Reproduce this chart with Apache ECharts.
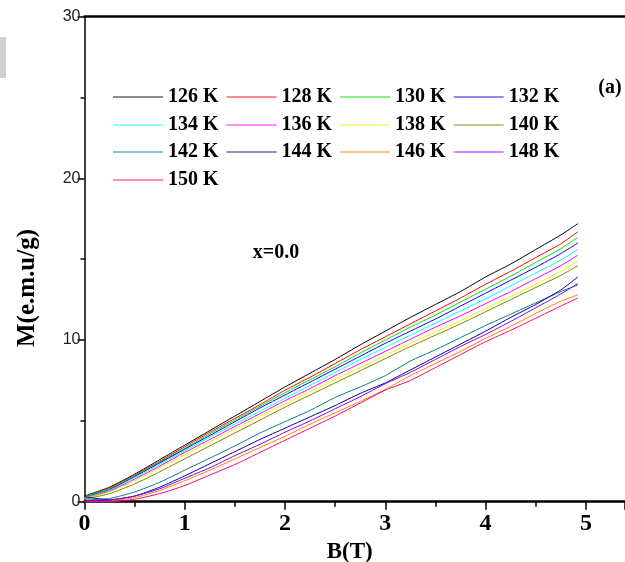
<!DOCTYPE html>
<html>
<head>
<meta charset="utf-8">
<script src="https://cdn.jsdelivr.net/npm/echarts@6/dist/echarts.min.js"></script>
<style>
  html, body { margin: 0; padding: 0; background: #fff; }
  #chart { width: 625px; height: 562px; }
</style>
</head>
<body>
<div id="chart"></div>
<script>
// field values B(T), shared by all curves
var fieldB = [0, 0.25, 0.5, 0.75, 1, 1.25, 1.5, 1.75, 2, 2.25, 2.5, 2.75, 3, 3.25, 3.5, 3.75, 4, 4.25, 4.5, 4.75, 4.92];

var temps = ['126 K', '128 K', '130 K', '132 K', '134 K', '136 K', '138 K', '140 K', '142 K', '144 K', '146 K', '148 K', '150 K'];

// M(e.m.u/g)
var m126 = [0.35, 0.9, 1.7, 2.6, 3.5, 4.4, 5.3, 6.2, 7.1, 7.95, 8.8, 9.7, 10.55, 11.4, 12.2, 13.0, 13.9, 14.7, 15.6, 16.5, 17.2];
var m128 = [0.3, 0.85, 1.65, 2.5, 3.4, 4.3, 5.15, 6.0, 6.9, 7.7, 8.55, 9.4, 10.2, 11.0, 11.8, 12.6, 13.45, 14.25, 15.1, 15.95, 16.7];
var m130 = [0.3, 0.8, 1.6, 2.45, 3.3, 4.2, 5.05, 5.9, 6.75, 7.55, 8.35, 9.2, 10.0, 10.8, 11.55, 12.35, 13.15, 13.95, 14.8, 15.65, 16.35];
var m132 = [0.25, 0.75, 1.55, 2.4, 3.25, 4.1, 4.95, 5.8, 6.6, 7.4, 8.2, 9.0, 9.8, 10.55, 11.3, 12.1, 12.9, 13.7, 14.5, 15.35, 16.0];
var m134 = [0.25, 0.7, 1.5, 2.3, 3.15, 4.0, 4.8, 5.6, 6.4, 7.2, 8.0, 8.8, 9.55, 10.3, 11.05, 11.8, 12.55, 13.35, 14.15, 14.95, 15.6];
var m136 = [0.2, 0.65, 1.4, 2.2, 3.05, 3.85, 4.65, 5.45, 6.25, 7.0, 7.8, 8.55, 9.3, 10.05, 10.8, 11.5, 12.25, 13.0, 13.8, 14.6, 15.25];
var m138 = [0.2, 0.6, 1.3, 2.1, 2.9, 3.7, 4.5, 5.3, 6.05, 6.8, 7.55, 8.3, 9.05, 9.8, 10.5, 11.2, 11.95, 12.7, 13.45, 14.25, 14.9];
var m140 = [0.15, 0.5, 1.1, 1.85, 2.65, 3.45, 4.25, 5.05, 5.85, 6.6, 7.35, 8.1, 8.85, 9.6, 10.3, 11.0, 11.75, 12.5, 13.25, 14.0, 14.6];
var m142 = [0.1, 0.2, 0.6, 1.2, 1.95, 2.7, 3.45, 4.25, 4.95, 5.65, 6.45, 7.1, 7.8, 8.7, 9.4, 10.15, 10.9, 11.6, 12.3, 13.0, 13.4];
var m144 = [0.3, 0.12, 0.35, 0.9, 1.6, 2.35, 3.1, 3.85, 4.55, 5.25, 5.95, 6.7, 7.35, 8.15, 8.95, 9.75, 10.55, 11.4, 12.2, 13.1, 13.9];
var m146 = [0.0, 0.05, 0.25, 0.7, 1.3, 1.95, 2.65, 3.35, 4.05, 4.8, 5.5, 6.2, 6.95, 7.8, 8.55, 9.3, 10.1, 10.85, 11.65, 12.4, 12.8];
var m148 = [0.05, 0.1, 0.35, 0.8, 1.45, 2.1, 2.85, 3.55, 4.3, 5.0, 5.75, 6.5, 7.3, 8.0, 8.8, 9.6, 10.35, 11.15, 12.0, 12.85, 13.5];
var m150 = [0.0, 0.0, 0.15, 0.5, 1.0, 1.65, 2.3, 3.05, 3.8, 4.55, 5.3, 6.1, 6.9, 7.5, 8.3, 9.1, 9.9, 10.6, 11.35, 12.1, 12.6];

var curves = [m126, m128, m130, m132, m134, m136, m138, m140, m142, m144, m146, m148, m150];
var colors = ['#000000', '#ff0000', '#00e000', '#0000ff', '#00ffff', '#ff00ff', '#f0f000',
              '#808000', '#008080', '#000080', '#ff8000', '#8000ff', '#ff0080'];

var serif = '"Liberation Serif", "DejaVu Serif", serif';

function pairs(ys) {
  return ys.map(function (v, i) { return [fieldB[i], v]; });
}

var series = curves.map(function (ys, i) {
  return {
    name: temps[i],
    type: 'line',
    data: pairs(ys),
    symbol: 'none',
    smooth: 0.2,
    lineStyle: { width: 1, color: colors[i] },
    itemStyle: { color: colors[i] }
  };
});

// one legend per row, 4 entries each
var rowTops = [87, 115, 142, 170];
var legends = rowTops.map(function (top, r) {
  return {
    data: temps.slice(r * 4, r * 4 + 4),
    left: 113,
    top: top,
    orient: 'horizontal',
    padding: 0,
    icon: 'rect',
    itemWidth: 50,
    itemHeight: 2,
    itemGap: 8,
    selectedMode: false,
    itemStyle: { opacity: 0.45 },
    textStyle: { fontFamily: serif, fontWeight: 'bold', fontSize: 20, color: '#000' }
  };
});

var chart = echarts.init(document.getElementById('chart'));
chart.setOption({
  animation: false,
  backgroundColor: '#fff',
  grid: { left: 84.5, top: 16.7, right: 0, bottom: 60.3, outerBoundsMode: 'none' },
  legend: legends,
  xAxis: [{
    type: 'value',
    min: 0,
    max: 5.39,
    interval: 1,
    name: 'B(T)',
    nameLocation: 'middle',
    nameGap: 31,
    nameTextStyle: { fontFamily: serif, fontWeight: 'bold', fontSize: 23, color: '#000', padding: [0, 10, 0, 0] },
    splitLine: { show: false },
    axisLine: { onZero: false, lineStyle: { color: '#000', width: 2.5 } },
    axisTick: { length: 8, lineStyle: { color: '#000', width: 1.5 } },
    minorTick: { show: true, splitNumber: 2, length: 5, lineStyle: { color: '#000', width: 1.5 } },
    axisLabel: { showMaxLabel: false, margin: 10, fontFamily: serif, fontWeight: 'bold', fontSize: 24, color: '#000' }
  }, {
    type: 'value',
    position: 'top',
    min: 0,
    max: 5.39,
    axisLine: { show: true, onZero: false, lineStyle: { color: '#000', width: 2.5 } },
    axisTick: { show: false },
    axisLabel: { show: false },
    splitLine: { show: false }
  }],
  yAxis: {
    type: 'value',
    min: 0,
    max: 30,
    interval: 10,
    splitLine: { show: false },
    axisLine: { show: true, onZero: false, lineStyle: { color: '#000', width: 1.5 } },
    axisTick: { length: 7, lineStyle: { color: '#000', width: 1.5 } },
    minorTick: { show: true, splitNumber: 2, length: 4, lineStyle: { color: '#000', width: 1.5 } },
    axisLabel: { margin: 4, fontFamily: '"Liberation Sans", Arial, sans-serif', fontSize: 16, color: '#222' }
  },
  graphic: [
    {
      type: 'text', x: 28, y: 288, rotation: Math.PI / 2,
      style: { text: 'M(e.m.u/g)', font: 'bold 25px ' + serif, fill: '#000', align: 'center', verticalAlign: 'middle' }
    },
    {
      type: 'text', x: 610, y: 88,
      style: { text: '(a)', font: 'bold 20px ' + serif, fill: '#000', align: 'center', verticalAlign: 'middle' }
    },
    {
      type: 'text', x: 276, y: 253,
      style: { text: 'x=0.0', font: 'bold 20px ' + serif, fill: '#000', align: 'center', verticalAlign: 'middle' }
    },
    {
      type: 'rect', shape: { x: 0, y: 37, width: 6, height: 41 },
      style: { fill: '#cfcfcf' }
    }
  ],
  series: series
});
</script>
</body>
</html>
